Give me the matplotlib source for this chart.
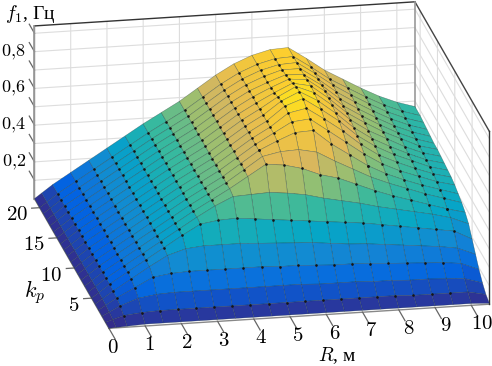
import numpy as np
import matplotlib
matplotlib.use("Agg")
import matplotlib.pyplot as plt
from matplotlib.colors import LinearSegmentedColormap, Normalize
from mpl_toolkits.mplot3d import proj3d

plt.rcParams['font.family'] = ['Liberation Serif', 'DejaVu Serif']
plt.rcParams['mathtext.fontset'] = 'cm'

R_nodes = [0, .5, 1, 1.5, 2, 2.5, 3, 3.5, 4, 4.5, 5, 5.5, 6, 6.5, 7, 7.5, 8, 8.5, 9, 9.5, 10, 10.5]
k_nodes = [0, 1, 2, 3, 4, 5, 6, 7, 8, 9, 10, 11, 12, 13, 14, 15, 16, 17, 18, 19, 20, 21.5]
f1 = [
 [0, .005, .01, .01, .01, .01, .01, .01, .01, .01, .01, .01, .01, .01, .01, .01, .01, .01, .01, .01, .01, .005],
 [0, .03, .04, .045, .045, .045, .045, .045, .045, .045, .045, .045, .045, .045, .045, .045, .045, .04, .04, .04, .04, .02],
 [0, .05, .085, .10, .105, .105, .105, .105, .105, .105, .105, .105, .10, .10, .10, .095, .095, .09, .09, .085, .08, .05],
 [0, .06, .11, .16, .175, .18, .18, .18, .18, .18, .175, .175, .17, .165, .165, .16, .155, .15, .145, .14, .13, .09],
 [0, .065, .125, .185, .24, .27, .28, .28, .28, .275, .27, .265, .26, .25, .24, .235, .225, .215, .205, .195, .18, .14],
 [0, .07, .13, .19, .25, .31, .365, .38, .385, .375, .365, .355, .345, .335, .325, .315, .30, .285, .27, .255, .24, .19],
 [0, .07, .13, .19, .25, .31, .37, .425, .47, .475, .48, .47, .455, .43, .41, .39, .365, .345, .325, .305, .28, .24],
 [0, .07, .13, .19, .25, .31, .37, .425, .48, .54, .60, .59, .565, .525, .50, .46, .42, .385, .355, .325, .295, .27],
 [0, .07, .13, .19, .25, .31, .37, .425, .48, .545, .61, .63, .635, .615, .56, .51, .46, .42, .385, .35, .32, .29],
 [0, .07, .13, .19, .25, .31, .37, .425, .48, .545, .61, .655, .695, .70, .62, .555, .49, .44, .40, .365, .335, .305],
 [0, .07, .13, .19, .25, .31, .37, .425, .48, .545, .61, .665, .72, .73, .66, .59, .52, .46, .415, .38, .345, .32],
 [0, .07, .13, .19, .25, .31, .37, .425, .48, .545, .61, .665, .735, .755, .69, .62, .54, .475, .43, .39, .355, .33],
 [0, .07, .13, .19, .25, .31, .37, .425, .48, .545, .61, .665, .74, .775, .71, .64, .555, .49, .44, .40, .36, .335],
 [0, .07, .13, .19, .25, .31, .37, .425, .48, .545, .61, .665, .735, .78, .725, .65, .565, .50, .45, .405, .365, .34],
 [0, .07, .13, .19, .25, .31, .37, .425, .48, .545, .61, .665, .725, .775, .735, .66, .575, .51, .46, .41, .37, .345],
 [0, .07, .13, .19, .25, .31, .37, .425, .48, .545, .61, .665, .715, .76, .74, .665, .58, .52, .465, .42, .375, .35],
 [0, .07, .13, .19, .25, .31, .37, .425, .48, .545, .61, .665, .71, .75, .74, .67, .585, .525, .47, .42, .38, .35],
 [0, .07, .13, .19, .25, .31, .37, .425, .48, .545, .61, .665, .705, .74, .735, .67, .59, .53, .475, .425, .385, .355],
 [0, .07, .13, .19, .25, .31, .37, .425, .48, .545, .61, .665, .705, .735, .735, .67, .595, .535, .48, .43, .39, .36],
 [0, .07, .13, .19, .25, .31, .37, .425, .48, .545, .61, .665, .705, .73, .735, .67, .60, .54, .485, .435, .395, .365],
 [0, .07, .13, .19, .25, .31, .37, .425, .48, .545, .61, .665, .705, .73, .735, .67, .60, .545, .49, .44, .40, .37],
 [0, .07, .13, .19, .25, .31, .37, .425, .48, .545, .61, .665, .705, .73, .735, .67, .60, .545, .49, .44, .40, .37],
]
# narrow strip next to the R = 0 edge
R_strip = .2
f1_strip = [.002, .012, .02, .025, .027, .028, .028, .028, .028, .028, .028,
            .028, .028, .028, .028, .028, .028, .028, .028, .028, .028, .028]

leg_R_idx = [1, 2, 3, 4, 5, 6, 7, 8, 9, 10, 11, 12, 13, 14, 15, 16, 17, 18, 19, 20]
leg_k_start = [1, 3, 5, 6, 6, 7, 7, 8, 8, 9, 10, 10, 10, 10, 10, 9, 9, 8, 8, 7]
row_k_idx = [1, 3, 5, 7, 9]
row_R_first = [2, 3, 4, 10, 10]
row_R_last = [19, 19, 20, 20, 16]

z_grid = [.1, .2, .3, .4, .5, .6, .7, .8, .9]
z_ticks = [.2, .4, .6, .8]
z_labels = ['$0{,}2$', '$0{,}4$', '$0{,}6$', '$0{,}8$']
R_ticks = [0, 1, 2, 3, 4, 5, 6, 7, 8, 9, 10]
k_ticks = [5, 10, 15, 20]

parula = LinearSegmentedColormap.from_list('parula', [(0, '#352A87'), (.125, '#0363E1'), (.25, '#1485D4'),
                                                      (.375, '#06A7C6'), (.5, '#38B99E'), (.62, '#92BF73'),
                                                      (.74, '#DDB75C'), (.92, '#FCCE2E'), (1, '#F9FB0E')])

fig = plt.figure(figsize=(4.92, 3.66), dpi=100)
ax = fig.add_axes([11/492, 13/366, 1, 1], projection='3d', proj_type='ortho', computed_zorder=False)
ax.view_init(elev=19.4, azim=-100.8)
ax.set_box_aspect((385, 395, 182), zoom=1.55)
xmax, ymax, zmax = 10.5, 21.5, .94
ax.set_xlim(0, xmax); ax.set_ylim(0, ymax); ax.set_zlim(0, zmax)

Z0 = np.array(f1)
Z = np.insert(Z0, 1, f1_strip, axis=1)
X, Y = np.meshgrid(np.insert(np.array(R_nodes), 1, R_strip), k_nodes)
norm = Normalize(0, .80)
Zc = (Z[:-1, :-1] + Z[1:, :-1] + Z[:-1, 1:] + Z[1:, 1:]) / 4
surf = ax.plot_surface(X, Y, Z, rstride=1, cstride=1, facecolors=parula(norm(Zc)), shade=False,
                edgecolor=(0.1, 0.2, 0.2, 0.5), linewidth=0.35, antialiased=True, zorder=2)
surf.set_clip_on(False)

dx, dy, dz = [], [], []
for i, s in zip(leg_R_idx, leg_k_start):
    for j in range(s, len(k_nodes) - 1):
        dx.append(R_nodes[i]); dy.append(k_nodes[j]); dz.append(Z0[j, i])
for j, a, b in zip(row_k_idx, row_R_first, row_R_last):
    for i in range(a, b + 1):
        dx.append(R_nodes[i]); dy.append(k_nodes[j]); dz.append(Z0[j, i])
sc = ax.scatter(dx, dy, dz, s=3.5, c='#151515', depthshade=False, linewidths=0, zorder=3)
sc.set_clip_on(False)

ax.set_xticks(R_ticks); ax.set_yticks(k_ticks); ax.set_zticks(z_grid)
ax.set_xticklabels([]); ax.set_yticklabels([]); ax.set_zticklabels([])
for a in (ax.xaxis, ax.yaxis, ax.zaxis):
    a.set_pane_color((1, 1, 1, 1))
    a._axinfo['grid'].update(color='#dddddd', linewidth=0.8)
    a._axinfo['tick'].update(inward_factor=0, outward_factor=0)
    a.line.set_clip_on(False)
    a.line.set_color('#888888')
    a.line.set_linewidth(1.0)

tick_kw = dict(color='#666666', lw=0.9, clip_on=False, zorder=1)
for v in R_ticks:
    ax.plot([v, v], [0, -1.8], [0, 0], **tick_kw)
for v in k_ticks:
    ax.plot([0, -.22], [v, v], [0, 0], **tick_kw)
for v in z_grid:
    ax.plot([0, 0], [ymax, ymax + 1.5], [v, v], **tick_kw)

ax.plot([0, xmax], [ymax, ymax], [zmax, zmax], color='#333333', lw=1.0, clip_on=False, zorder=1)
ax.plot([xmax, xmax], [ymax, 0], [zmax, zmax], color='#444444', lw=1.0, clip_on=False, zorder=1)
ax.plot([xmax, xmax], [ymax, ymax], [0, zmax], color='#999999', lw=1.2, clip_on=False, zorder=1)
ax.plot([0, 0], [ymax, ymax], [0, zmax], color='#999999', lw=1.2, clip_on=False, zorder=1)
ax.plot([xmax, xmax], [0, 0], [0, zmax], color='#333333', lw=1.0, clip_on=False, zorder=1)

# tick labels: plain 2D text placed through the axes' own 3D projection
fig.canvas.draw()
M = ax.get_proj()
def label3d(x, y, z, s, **kw):
    u, v, _ = proj3d.proj_transform(x, y, z, M)
    ax.text2D(u, v, s, transform=ax.transData, clip_on=False, va='center', **kw)

for v in R_ticks:
    label3d(v * 1.02 - .2, -3.2, 0, f'${v}$', fontsize=15, ha='center')
for v in k_ticks:
    label3d(-.33, v, -.04, f'${v}$', fontsize=15, ha='right')
for v, s in zip(z_ticks, z_labels):
    label3d(-.24, ymax, v, s, fontsize=13, ha='right')

ax.text2D(5/492, 1 - 14/366, r'$f_1$, Гц', transform=fig.transFigure, fontsize=14, va='center')
ax.text2D(24/492, 1 - 292/366, r'$k_p$', transform=fig.transFigure, fontsize=16, va='center')
ax.text2D(318/492, 1 - 356/366, r'$R$, м', transform=fig.transFigure, fontsize=14, va='center')

fig.savefig('out.png', dpi=100)
